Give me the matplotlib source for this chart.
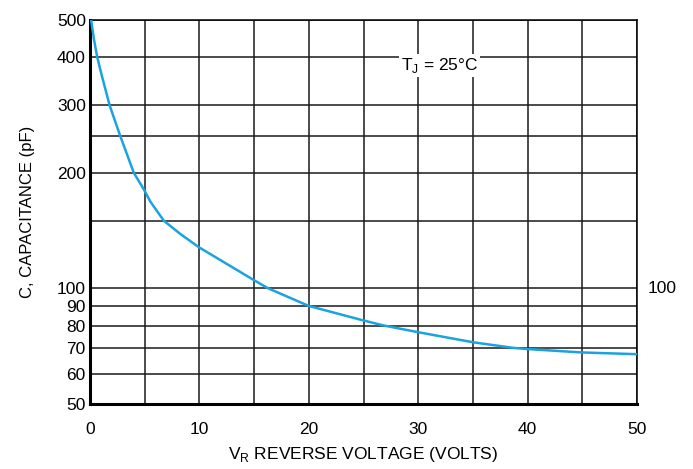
import matplotlib
matplotlib.use('Agg')
import matplotlib.pyplot as plt
from matplotlib.ticker import FixedLocator, FixedFormatter, NullLocator

plt.rcParams['font.family'] = ['Liberation Sans', 'DejaVu Sans']
plt.rcParams['mathtext.fontset'] = 'custom'
plt.rcParams['mathtext.rm'] = 'Liberation Sans'

# curve
volts = [0.1, 0.35, 0.66, 1.1, 1.79, 2.15, 2.75, 4.0, 4.92, 5.53, 6.75, 8.27,
         9.95, 15.0, 16.3, 20.0, 25.0, 26.9, 30.0, 35.0, 38.7, 40.0, 45.0, 50.0]
cap = [500, 447, 400, 356, 300, 280, 250, 200, 181, 168, 150, 138.5,
       128, 105, 100, 90, 82.5, 80, 76.9, 72.4, 70, 69.5, 68.1, 67.4]

x_ticks = [0, 10, 20, 30, 40, 50]
x_grid = [5, 15, 25, 35, 45]
y_grid = [50, 60, 70, 80, 90, 100, 150, 200, 250, 300, 400, 500]
y_labels = ['50', '60', '70', '80', '90', '100', '', '200', '', '300', '400', '500']

fig = plt.figure(figsize=(6.93, 4.69), dpi=100)
ax = fig.add_axes([0.1299, 0.1386, 0.7893, 0.8188])

ax.plot(volts, cap, color='#1aa3e0', lw=1.8, zorder=3,
        solid_joinstyle='round', solid_capstyle='round')

ax.set_yscale('log')
ax.set_xlim(0, 50)
ax.set_ylim(50, 500)

ax.xaxis.set_major_locator(FixedLocator(x_ticks))
ax.xaxis.set_minor_locator(FixedLocator(x_grid))
ax.yaxis.set_major_locator(FixedLocator(y_grid))
ax.yaxis.set_major_formatter(FixedFormatter(y_labels))
ax.yaxis.set_minor_locator(NullLocator())
ax.tick_params(axis='both', which='both', length=0, labelsize=12.5)
ax.tick_params(axis='x', pad=13)
ax.tick_params(axis='y', pad=3)

ax.grid(True, which='both', color='#1a1a1a', lw=1.1)
ax.set_axisbelow(True)

for s in ['top', 'right']:
    ax.spines[s].set_linewidth(1.1)
for s in ['left', 'bottom']:
    ax.spines[s].set_linewidth(2.2)

ax.set_xlabel(r'V$_\mathregular{R}$ REVERSE VOLTAGE (VOLTS)', fontsize=12.5, labelpad=6)
ax.set_ylabel('C, CAPACITANCE (pF)', fontsize=12, labelpad=16)

ax.text(0.6385, 0.8825, r'T$_\mathregular{J}$ = 25°C', transform=ax.transAxes,
        fontsize=12.5, ha='center', va='center',
        bbox=dict(facecolor='white', edgecolor='none', pad=1.5), zorder=4)
ax.text(1.02, 100, '100', transform=ax.get_yaxis_transform(),
        fontsize=12.5, ha='left', va='center')

fig.savefig('out.png', dpi=100)
